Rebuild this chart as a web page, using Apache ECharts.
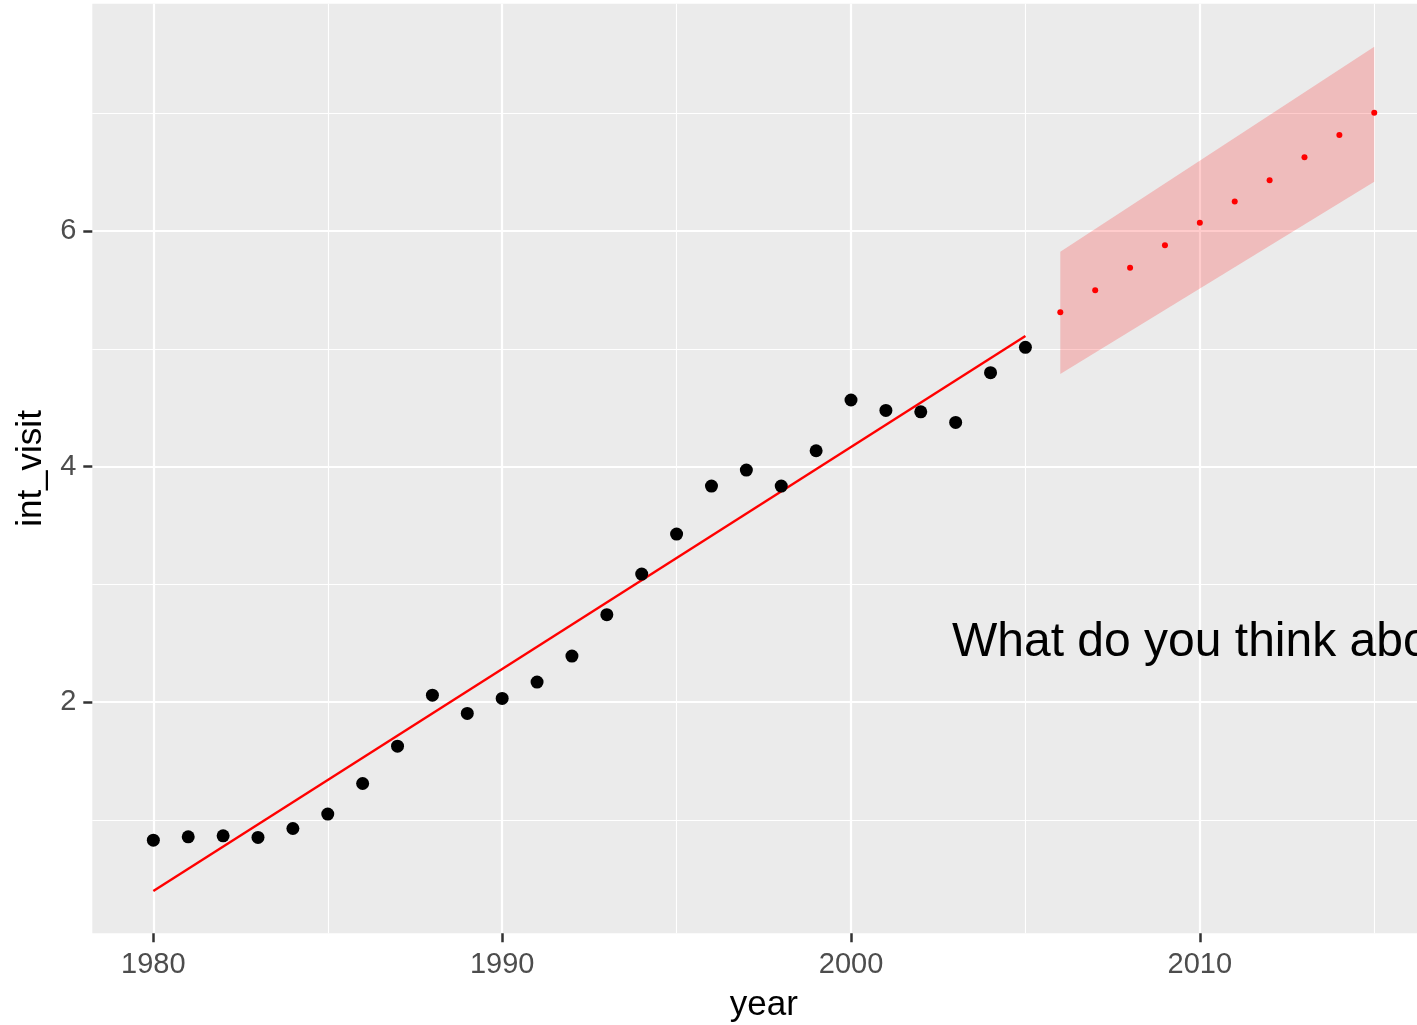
<!DOCTYPE html>
<html><head><meta charset="utf-8">
<script src="https://cdn.jsdelivr.net/npm/echarts@6/dist/echarts.min.js"></script>
<style>html,body{margin:0;padding:0;background:#fff;overflow:hidden}#chart{width:1417px;height:1025px}</style>
</head><body><div id="chart"></div>
<script>
// ---- data ----
const years = [1980,1981,1982,1983,1984,1985,1986,1987,1988,1989,1990,1991,1992,1993,1994,1995,1996,1997,1998,1999,2000,2001,2002,2003,2004,2005];
const intVisit = [0.828,0.856,0.865,0.851,0.927,1.049,1.309,1.626,2.059,1.904,2.031,2.170,2.391,2.742,3.087,3.427,3.834,3.970,3.834,4.134,4.565,4.477,4.465,4.375,4.797,5.012];
const fitYears = [1980, 2005];
const fitValues = [0.397, 5.108];
const fcYears = [2006,2007,2008,2009,2010,2011,2012,2013,2014,2015];
const fcValues = [5.31,5.497,5.689,5.88,6.07,6.25,6.43,6.626,6.815,7.005];
const bandYears = [2006, 2015];
const bandLower = [4.786, 6.419];
const bandUpper = [5.824, 7.565];
const xMajorTicks = [1980,1990,2000,2010];
const xMinorTicks = [1985,1995,2005,2015];
const yMajorTicks = [2,4,6];
const yMinorTicks = [1,3,5,7];
const noteText = 'What do you think about it?';
const notePos = [2002.895, 2.5];

const FONT = '"Liberation Sans", Arial, sans-serif';
const chart = echarts.init(document.getElementById('chart'), null, {renderer:'canvas'});

const xRange = {min:1978.25, max:2016.75};
const yRange = {min:0.037, max:7.93};

const option = {
  animation:false,
  backgroundColor:'#ffffff',
  textStyle:{fontFamily:FONT},
  grid:{left:92.3, top:3.7, width:1343, height:929.6, show:true, backgroundColor:'#ebebeb', borderWidth:0, containLabel:false, outerBoundsMode:'none'},
  xAxis:[
    {type:'value', min:xRange.min, max:xRange.max, position:'bottom',
     name:'year', nameLocation:'middle', nameGap:55,
     nameTextStyle:{fontSize:35, color:'#000', fontFamily:FONT},
     axisLine:{show:false},
     axisTick:{show:true, customValues:xMajorTicks, length:9, lineStyle:{color:'#333333', width:2.5}},
     axisLabel:{show:true, customValues:xMajorTicks, margin:17, fontSize:29, color:'#4d4d4d', fontFamily:FONT, hideOverlap:false,
       formatter:function(v){return String(Math.round(v));}},
     splitLine:{show:true, lineStyle:{color:'#ffffff', width:2.2}}},
    {type:'value', min:xRange.min, max:xRange.max, position:'top',
     axisLine:{show:false}, axisTick:{show:false, customValues:xMinorTicks}, axisLabel:{show:false, customValues:xMinorTicks},
     splitLine:{show:true, lineStyle:{color:'#ffffff', width:1.1}}}
  ],
  yAxis:[
    {type:'value', min:yRange.min, max:yRange.max, position:'left',
     name:'int_visit', nameLocation:'middle', nameGap:34, nameRotate:90,
     nameTextStyle:{fontSize:35, color:'#000', fontFamily:FONT},
     axisLine:{show:false},
     axisTick:{show:true, customValues:yMajorTicks, length:9, lineStyle:{color:'#333333', width:2.5}},
     axisLabel:{show:true, customValues:yMajorTicks, margin:16, fontSize:29, color:'#4d4d4d', fontFamily:FONT,
       formatter:function(v){return String(Math.round(v));}},
     splitLine:{show:true, lineStyle:{color:'#ffffff', width:2.2}}},
    {type:'value', min:yRange.min, max:yRange.max, position:'right',
     axisLine:{show:false}, axisTick:{show:false, customValues:yMinorTicks}, axisLabel:{show:false, customValues:yMinorTicks},
     splitLine:{show:true, lineStyle:{color:'#ffffff', width:1.1}}}
  ],
  series:[
    {type:'custom', name:'band', xAxisIndex:0, yAxisIndex:0, z:2, silent:true,
     data:[[bandYears[0], bandLower[0]]],
     renderItem:function(params, api){
       const pts = [];
       for (let i=0;i<bandYears.length;i++) pts.push(api.coord([bandYears[i], bandUpper[i]]));
       for (let i=bandYears.length-1;i>=0;i--) pts.push(api.coord([bandYears[i], bandLower[i]]));
       return {type:'polygon', shape:{points:pts}, style:{fill:'rgba(255,0,0,0.2)', stroke:null}};
     }},
    {type:'line', name:'fit', xAxisIndex:0, yAxisIndex:0, z:3, symbol:'none', silent:true,
     data:fitYears.map((y,i)=>[y, fitValues[i]]),
     lineStyle:{color:'#ff0000', width:2.4, opacity:1}},
    {type:'scatter', name:'observed', xAxisIndex:0, yAxisIndex:0, z:4, symbol:'circle', symbolSize:13, silent:true,
     data:years.map((y,i)=>[y, intVisit[i]]),
     itemStyle:{color:'#000000', opacity:1}},
    {type:'scatter', name:'forecast', xAxisIndex:0, yAxisIndex:0, z:5, symbol:'circle', symbolSize:6, silent:true,
     data:fcYears.map((y,i)=>[y, fcValues[i]]),
     itemStyle:{color:'#ff0000', opacity:1}},
    {type:'scatter', name:'note', xAxisIndex:0, yAxisIndex:0, z:6, symbolSize:0, silent:true,
     data:[notePos],
     itemStyle:{opacity:1},
     label:{show:true, position:'inside', formatter:noteText, align:'left', verticalAlign:'middle', fontSize:48, color:'#000000', opacity:1, fontFamily:FONT}}
  ]
};
chart.setOption(option);
</script>
</body></html>
